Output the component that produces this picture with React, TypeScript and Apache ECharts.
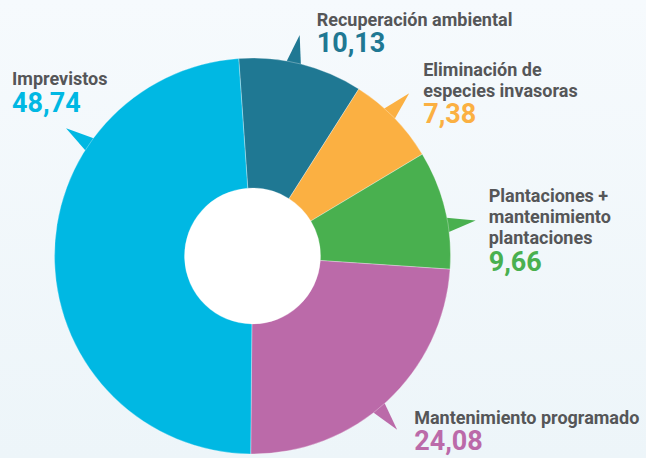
import React, { useEffect, useRef } from "react";
import * as echarts from "echarts";

// ---- data ----
const categories = [
  "Recuperación ambiental",
  "Eliminación de especies invasoras",
  "Plantaciones + mantenimiento plantaciones",
  "Mantenimiento programado",
  "Imprevistos",
];
const labelLines = [
  ["Recuperación ambiental"],
  ["Eliminación de", "especies invasoras"],
  ["Plantaciones +", "mantenimiento", "plantaciones"],
  ["Mantenimiento programado"],
  ["Imprevistos"],
];
const values = [10.13, 7.38, 9.66, 24.08, 48.74];
const colors = ["#1f7893", "#fbb042", "#49b04f", "#bb6aa9", "#00b8e3"];

// ---- layout constants ----
const W = 646;
const H = 458;
const CX = 252.5;
const CY = 256;
const R_IN = 68;
const R_OUT = 198;
const START = 94;
const tailFrac = [0.44, 0.43, 0.63, 0.535, 0.706];
const labelOffset = [
  [17, -2],
  [14, 0],
  [13, 10],
  [17, 1],
  [-54, -36],
];

const deg = Math.PI / 180;
const pt = (r: number, a: number) => [CX + r * Math.sin(a * deg), CY - r * Math.cos(a * deg)];

function computeTails() {
  const total = values.reduce((s, v) => s + v, 0);
  let a = 90 - START;
  return values.map((v, i) => {
    const span = (v / total) * 360;
    const ta = a + span * tailFrac[i];
    a += span;
    return {
      angle: ta,
      tip: pt(R_OUT + 28, ta),
      b1: pt(R_OUT - 8, ta - 2.8),
      b2: pt(R_OUT - 8, ta + 2.8),
    };
  });
}

const fmt = (v: number) => v.toFixed(2).replace(".", ",");

export default function App() {
  const ref = useRef<HTMLDivElement>(null);
  useEffect(() => {
    if (!ref.current) return;
    const chart = echarts.init(ref.current, undefined, { renderer: "svg" });
    const tails = computeTails();
    const rich: any = {
      n: { fontFamily: "Roboto", fontSize: 18, fontWeight: "bold", color: "#555658", lineHeight: 21 },
    };
    colors.forEach((c, i) => {
      rich["v" + i] = { fontFamily: "Roboto", fontSize: 27, fontWeight: "bold", color: c, lineHeight: 27 };
    });
    chart.setOption({
      animation: false,
      backgroundColor: {
        type: "linear",
        x: 0, y: 0, x2: 0, y2: 1,
        colorStops: [
          { offset: 0, color: "#f6fafd" },
          { offset: 1, color: "#edf5f9" },
        ],
      },
      graphic: [
        {
          type: "circle",
          z: 1,
          shape: { cx: CX, cy: CY, r: R_IN + 2 },
          style: { fill: "#ffffff" },
        },
        ...tails.map((t, i) => ({
          type: "polygon",
          z: 1,
          shape: { points: [t.b1, t.tip, t.b2] },
          style: { fill: colors[i] },
        })),
      ],
      series: [
        {
          type: "pie",
          z: 2,
          center: [CX, CY],
          radius: [R_IN, R_OUT],
          startAngle: START,
          clockwise: true,
          avoidLabelOverlap: false,
          itemStyle: { borderColor: "rgba(255,255,255,0.5)", borderWidth: 0.6 },
          emphasis: { disabled: true },
          label: {
            show: true,
            position: "outside",
            formatter: (p: any) => {
              const i = p.dataIndex;
              return labelLines[i].map((l) => `{n|${l}}`).join("\n") + `\n{v${i}|${fmt(values[i])}}`;
            },
            rich,
          },
          labelLine: { show: false },
          labelLayout: (p: any) => {
            const i = p.dataIndex;
            const t = tails[i].tip;
            return {
              x: t[0] + labelOffset[i][0],
              y: t[1] + labelOffset[i][1],
              align: "left",
              verticalAlign: "middle",
            };
          },
          data: categories.map((c, i) => ({
            name: c,
            value: values[i],
            itemStyle: { color: colors[i] },
          })),
        },
      ],
    });
    return () => chart.dispose();
  }, []);
  return (
    <div
      ref={ref}
      style={{ position: "fixed", left: 0, top: 0, width: W, height: H }}
    />
  );
}
